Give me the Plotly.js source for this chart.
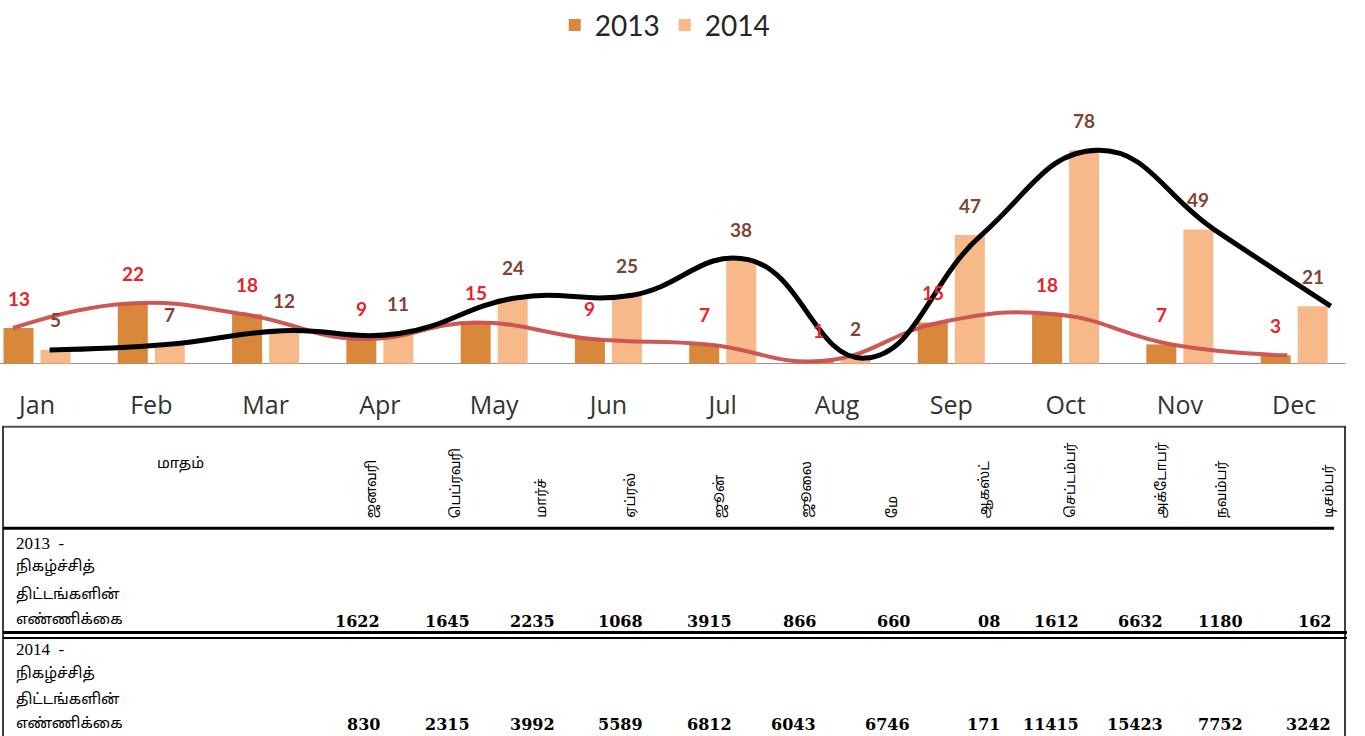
<!DOCTYPE html>
<html>
<head>
<meta charset="utf-8">
<script src="https://cdn.plot.ly/plotly-3.0.1.min.js"></script>
<style>
html,body{margin:0;padding:0;background:#ffffff;}
#chart{width:1365px;height:736px;}
</style>
</head>
<body>
<div id="chart"></div>
<script>
// ---------- data ----------
const months = ['Jan','Feb','Mar','Apr','May','Jun','Jul','Aug','Sep','Oct','Nov','Dec'];
const series2013 = [13,22,18,9,15,9,7,1,15,18,7,3];
const series2014 = [5,7,12,11,24,25,38,2,47,78,49,21];
const seriesNames = ['2013','2014'];

const tableCorner = 'மாதம்';
const tableMonths = ['ஜனவரி','பெப்ரவரி','மார்ச்','ஏப்ரல்','ஜூன்','ஜூலை','மே','ஆகஸ்ட்','செப்டம்பர்','அக்டோபர்','நவம்பர்','டிசம்பர்'];
const rowLabel2013 = ['2013  -','நிகழ்ச்சித்','திட்டங்களின்','எண்ணிக்கை'];
const rowLabel2014 = ['2014  -','நிகழ்ச்சித்','திட்டங்களின்','எண்ணிக்கை'];
const table2013 = ['1622','1645','2235','1068','3915','866','660','08','1612','6632','1180','162'];
const table2014 = ['830','2315','3992','5589','6812','6043','6746','171','11415','15423','7752','3242'];

// ---------- layout helpers ----------
const W = 1365, H = 736;
const px = v => v / W;
const py = v => 1 - v / H;
const idx = months.map((m, i) => i);
const BAR_OFF = 0.162;

const colors = {c2013: '#D8873B', c2014: '#F7B98A', red: '#C9504E', black: '#000000',
  lbl2013: '#E5242B', lbl2014: '#7E4536'};

const sansFont = 'Lato, "Open Sans", "Noto Sans", sans-serif';
const tamilFont = '"Noto Sans Tamil", "Lohit Tamil", "Noto Sans", "DejaVu Sans", sans-serif';

const traces = [
  {type: 'bar', name: seriesNames[0], x: idx, y: series2013,
   marker: {color: colors.c2013}, hoverinfo: 'skip'},
  {type: 'bar', name: seriesNames[1], x: idx, y: series2014,
   marker: {color: colors.c2014}, hoverinfo: 'skip'},
  {type: 'scatter', mode: 'lines', showlegend: false, hoverinfo: 'skip',
   x: idx.map(i => -0.21 + i * (11.15 / 11)), y: series2013,
   line: {color: colors.red, width: 4, shape: 'spline', smoothing: 1.3}, opacity: 0.95},
  {type: 'scatter', mode: 'lines', showlegend: false, hoverinfo: 'skip',
   x: idx.map(i => 0.11 + i * (11.21 / 11)), y: series2014,
   line: {color: colors.black, width: 5, shape: 'spline', smoothing: 1.3}}
];

const annotations = [];
// data labels
series2013.forEach((v, i) => annotations.push({
  x: i - BAR_OFF, y: v, xref: 'x', yref: 'y', yshift: 30, showarrow: false,
  text: String(v), font: {family: sansFont, size: 19, color: colors.lbl2013, weight: 'bold'}
}));
series2014.forEach((v, i) => annotations.push({
  x: i + BAR_OFF, y: v, xref: 'x', yref: 'y', yshift: 30, showarrow: false,
  text: String(v), font: {family: sansFont, size: 19, color: colors.lbl2014, weight: 'bold'}
}));

// table header
annotations.push({xref: 'paper', yref: 'paper', x: px(155), y: py(463), xanchor: 'left', yanchor: 'middle',
  showarrow: false, text: tableCorner, font: {family: tamilFont, size: 15, color: '#000'}});
const headerX = [372, 456, 543, 632, 720, 808, 893, 985, 1072, 1162, 1222, 1330];
tableMonths.forEach((t, i) => annotations.push({
  xref: 'paper', yref: 'paper', x: px(headerX[i]), y: py(519), xanchor: 'center', yanchor: 'bottom',
  textangle: -90, showarrow: false, text: t, font: {family: tamilFont, size: 14, color: '#000'}
}));

// row labels
const rowLineY1 = [542, 567, 595, 620];
const rowLineY2 = [649, 674, 700, 724];
function addRowLabel(lines, ys) {
  lines.forEach((t, k) => annotations.push({
    xref: 'paper', yref: 'paper', x: px(14), y: py(ys[k]), xanchor: 'left', yanchor: 'middle',
    showarrow: false, text: t,
    font: {family: k === 0 ? '"Liberation Serif", "DejaVu Serif", serif' : tamilFont,
           size: k === 0 ? 17 : 15, color: '#000'}
  }));
}
addRowLabel(rowLabel2013, rowLineY1);
addRowLabel(rowLabel2014, rowLineY2);

// numbers
const colRight = [382, 472, 557, 645, 734, 818, 912, 1002, 1081, 1165, 1245, 1333];
function addNumbers(vals, yc) {
  vals.forEach((t, i) => annotations.push({
    xref: 'paper', yref: 'paper', x: px(colRight[i]), y: py(yc), xanchor: 'right', yanchor: 'middle',
    showarrow: false, text: t,
    font: {family: '"DejaVu Serif", "Liberation Serif", serif', size: 16, color: '#000', weight: 'bold'}
  }));
}
addNumbers(table2013, 621);
addNumbers(table2014, 724);

// table lines
function hline(x0, x1, y, w, c) {
  return {type: 'line', xref: 'paper', yref: 'paper', x0: px(x0), x1: px(x1), y0: py(y), y1: py(y),
          line: {color: c || '#000', width: w}};
}
function vline(x, y0, y1, w, c) {
  return {type: 'line', xref: 'paper', yref: 'paper', x0: px(x), x1: px(x), y0: py(y0), y1: py(y1),
          line: {color: c || '#000', width: w}};
}
const shapes = [
  {type: 'line', xref: 'x', yref: 'y', x0: -0.33, x1: 11.45, y0: 0, y1: 0,
   line: {color: '#8e8e8e', width: 1}, layer: 'below'},
  hline(2, 1346, 425, 2, '#555'),
  vline(3, 425, 736, 1.5),
  vline(1345, 425, 736, 1.5),
  hline(3, 1334, 527, 3),
  hline(3, 1347, 632, 3),
  hline(3, 1347, 637.5, 2)
];

const layout = {
  width: W, height: H,
  margin: {l: 0, r: 0, t: 0, b: 0},
  paper_bgcolor: '#ffffff', plot_bgcolor: '#ffffff',
  barmode: 'group', bargap: 0.352, bargroupgap: 0.19,
  showlegend: true,
  legend: {orientation: 'h', x: 0.487, xanchor: 'center', y: 1.005, yanchor: 'top',
           font: {family: sansFont, size: 28, color: '#262626'}, traceorder: 'normal',
           bgcolor: 'rgba(0,0,0,0)'},
  xaxis: {range: [-0.324, 11.62], tickmode: 'array', tickvals: idx, ticktext: months,
          showgrid: false, zeroline: false, showline: false, ticks: '',
          tickfont: {family: '"Open Sans", Lato, sans-serif', size: 25, color: '#333333'}, fixedrange: true},
  yaxis: {domain: [py(386), 1], range: [-8.9, 131.5], showgrid: false, zeroline: false,
          showline: false, showticklabels: false, ticks: '', fixedrange: true},
  annotations: annotations,
  shapes: shapes
};

Plotly.newPlot('chart', traces, layout, {displayModeBar: false, staticPlot: true});
</script>
</body>
</html>
